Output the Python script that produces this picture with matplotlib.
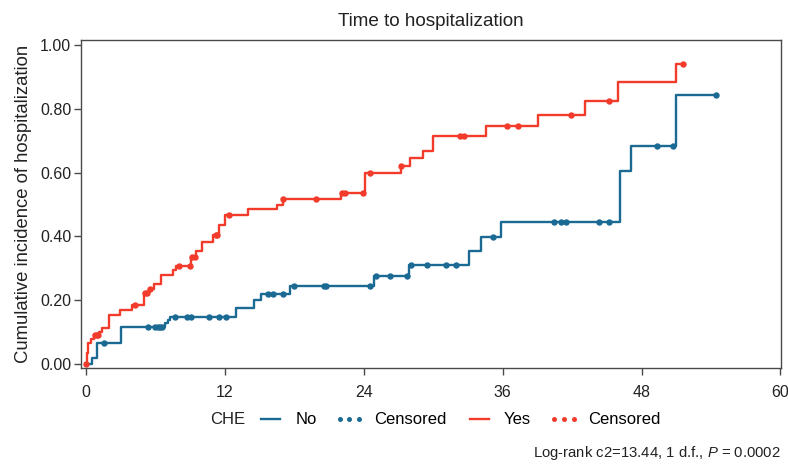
import numpy as np
import matplotlib.pyplot as plt
from matplotlib.lines import Line2D

plt.rcParams['font.family'] = ['Liberation Sans', 'DejaVu Sans']
plt.rcParams['mathtext.fontset'] = 'custom'
plt.rcParams['mathtext.rm'] = 'Liberation Sans'
plt.rcParams['mathtext.it'] = 'Liberation Sans:italic'

# CHE = No : step times (months) and cumulative incidence after each step
no_times = [0, 0.5, 0.95, 3.0, 6.85, 7.05, 7.3, 13.0, 14.5, 15.1, 17.6, 24.9,
            27.9, 33.1, 34.1, 35.9, 46.1, 47.1, 51.0]
no_cuminc = [0, 0.018, 0.067, 0.115, 0.128, 0.138, 0.148, 0.176, 0.200, 0.218,
             0.245, 0.275, 0.310, 0.355, 0.397, 0.444, 0.605, 0.682, 0.842]
no_censored = [1.6, 5.4, 5.95, 6.2, 6.4, 6.6, 7.65, 8.7, 9.1, 10.6, 11.5, 12.1,
               15.7, 16.2, 17.0, 17.96, 20.6, 20.75, 24.5, 25.1, 26.3, 27.7,
               28.1, 29.5, 31.1, 32.0, 35.2, 40.4, 41.0, 41.5, 44.3, 45.2,
               49.3, 50.7, 54.4]

# CHE = Yes
yes_times = [0, 0.05, 0.2, 0.4, 0.7, 1.1, 1.4, 1.95, 2.95, 4.0, 5.0, 5.45, 5.9,
             6.5, 7.5, 7.8, 9.05, 9.5, 10.05, 11.0, 11.5, 12.0, 14.0, 16.5,
             17.0, 22.0, 24.1, 27.2, 28.0, 29.1, 30.0, 34.6, 39.05, 43.1,
             46.0, 51.0]
yes_cuminc = [0, 0.035, 0.065, 0.078, 0.090, 0.100, 0.112, 0.155, 0.168, 0.184,
              0.224, 0.235, 0.250, 0.279, 0.294, 0.307, 0.336, 0.354, 0.383,
              0.404, 0.436, 0.467, 0.485, 0.500, 0.518, 0.535, 0.598, 0.620,
              0.647, 0.669, 0.716, 0.745, 0.780, 0.824, 0.883, 0.940]
yes_censored = [0, 0.78, 0.93, 1.07, 4.2, 5.1, 5.25, 5.5, 8.0, 8.95, 9.2, 9.4,
                11.2, 11.35, 12.4, 17.05, 19.9, 22.1, 22.4, 23.95, 24.5, 27.25,
                32.3, 32.7, 36.4, 37.3, 41.9, 45.2, 51.6]

blue = '#1b6a93'
red = '#f23b2b'
frame = '#4a4a4a'


def level_at(times, vals, t):
    idx = np.searchsorted(times, t, side='right') - 1
    return np.asarray(vals)[idx]


fig = plt.figure(figsize=(7.88, 4.71), dpi=100)
ax = fig.add_axes([81 / 788, 1 - 368 / 471, 700 / 788, 328 / 471])

for times, vals, cens, col in [(no_times, no_cuminc, no_censored, blue),
                               (yes_times, yes_cuminc, yes_censored, red)]:
    end = max(max(cens), times[-1])
    xs = list(times) + [end]
    ys = list(vals) + [vals[-1]]
    ax.step(xs, ys, where='post', color=col, lw=1.7)
    cx = np.array(cens)
    ax.plot(cx, level_at(times, vals, cx), 'o', color=col, ms=4.6, mew=0)

ax.set_xlim(-0.43, 60.05)
ax.set_ylim(-0.0125, 1.0157)
ax.set_xticks(np.arange(0, 61, 12))
ax.set_yticks(np.arange(0, 1.01, 0.2))
ax.set_yticklabels([f'{v:.2f}' for v in np.arange(0, 1.01, 0.2)])
for s in ax.spines.values():
    s.set_color(frame)
    s.set_linewidth(1.0)
ax.tick_params(axis='both', colors=frame, labelcolor='#222222',
               labelsize=11.5, length=5, width=1.0)
ax.tick_params(axis='x', pad=7)
ax.tick_params(axis='y', pad=2)

ax.set_title('Time to hospitalization', fontsize=13.6, color='#222222', pad=10)
ax.set_ylabel('Cumulative incidence of hospitalization', fontsize=13.3,
              color='#222222', labelpad=6)

handles = [Line2D([], [], color=blue, lw=1.7),
           Line2D([], [], color=blue, ls='none', marker='o', ms=3.6, mew=0),
           Line2D([], [], color=red, lw=1.7),
           Line2D([], [], color=red, ls='none', marker='o', ms=3.6, mew=0)]
labels = ['No', 'Censored', 'Yes', 'Censored']
fig.text(210 / 788, 1 - 420 / 471, 'CHE', fontsize=12, color='#222222',
         va='center', ha='left')
fig.legend(handles, labels, ncol=4, numpoints=3, frameon=False, fontsize=12,
           loc='center left', bbox_to_anchor=(256 / 788, 1 - 420 / 471),
           handlelength=1.75, handletextpad=0.6, columnspacing=1.1,
           borderaxespad=0, borderpad=0)

fig.text(781 / 788, 1 - 453 / 471, 'Log-rank c2=13.44, 1 d.f., $P$ = 0.0002',
         fontsize=10.7, color='#222222', ha='right', va='center')

fig.savefig('out.png', dpi=100)
